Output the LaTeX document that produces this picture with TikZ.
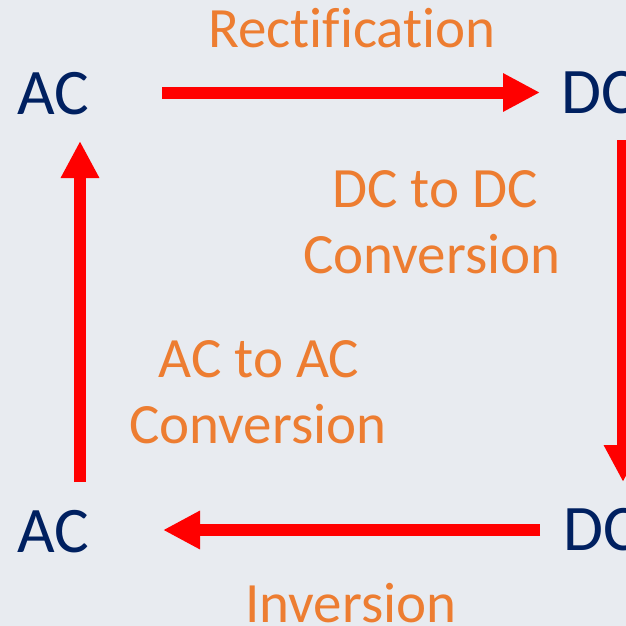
\documentclass[tikz,border=0pt]{standalone}
\usepackage{fontspec}
\setmainfont{Carlito}[Ligatures={NoCommon,NoRare,NoDiscretionary,NoContextual}]
\usetikzlibrary{arrows.meta}
\definecolor{bgc}{HTML}{E8EBF0}
\definecolor{navy}{HTML}{002060}
\definecolor{orng}{HTML}{ED7D31}
\definecolor{redc}{HTML}{FF0000}
\tikzset{
  term/.style={text=navy, font=\fontsize{65}{78}\selectfont, inner sep=0pt, anchor=base west},
  lbl/.style={text=orng, font=\fontsize{57}{68}\selectfont, inner sep=0pt, anchor=base},
  flow/.style={draw=redc, line width=12pt, -{Triangle[length=37pt,width=36pt]}}
}
\begin{document}
\begin{tikzpicture}[x=1pt,y=-1pt]
\fill[bgc] (0,0) rectangle (626,626);
\useasboundingbox (0,0) rectangle (626,626);
% terms
\node[term] (ac1) at (17,114) {AC};
\node[term] (dc1) at (561,113) {DC};
\node[term] (ac2) at (17,552) {AC};
\node[term] (dc2) at (563,550) {DC};
% labels
\node[lbl] (rect) at (352,48) {Rectification};
\node[lbl] (dcd1) at (435,207) {DC to DC};
\node[lbl] (dcd2) at (432,273) {Conversion};
\node[lbl] (aca1) at (259,377) {AC to AC};
\node[lbl] (aca2) at (258,443) {Conversion};
\node[lbl] (inv) at (351,622) {Inversion};
% arrow ends
\coordinate (t1) at (162,92.5);
\coordinate (t2) at (540,92.5);
\coordinate (r1) at (623,140);
\coordinate (r2) at (623,482);
\coordinate (b1) at (540,530);
\coordinate (b2) at (163,530);
\coordinate (l1) at (80,482);
\coordinate (l2) at (80,141);
\draw[flow] (t1) -- (t2);
\draw[flow] (r1) -- (r2);
\draw[flow] (b1) -- (b2);
\draw[flow] (l1) -- (l2);
\end{tikzpicture}
\end{document}
